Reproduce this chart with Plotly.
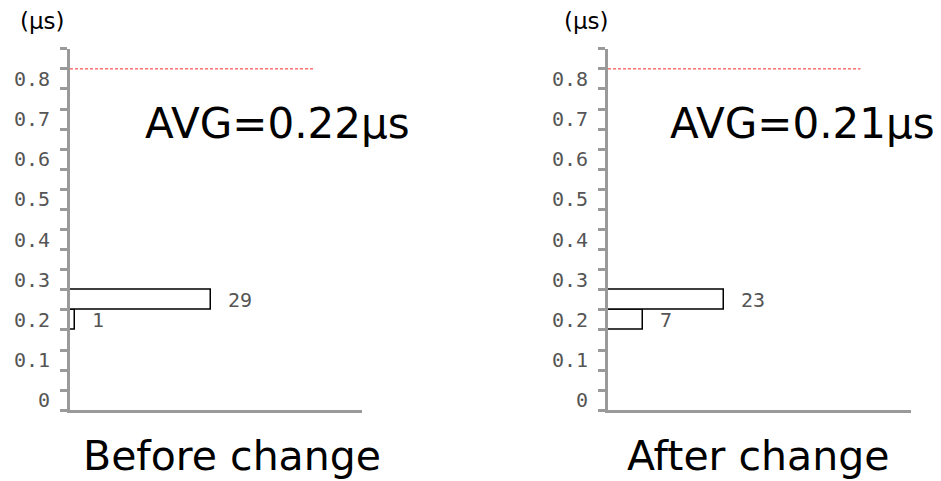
import plotly.graph_objects as go

# ---- data ----
bin_centers = [0.20, 0.25]          # µs
before_counts = [1, 29]
after_counts = [7, 23]
bin_width = 0.05
tick_values = [0, 0.1, 0.2, 0.3, 0.4, 0.5, 0.6, 0.7, 0.8]
tick_labels = ["0", "0.1", "0.2", "0.3", "0.4", "0.5", "0.6", "0.7", "0.8"]
band_edges = [-0.025 + 0.05 * i for i in range(19)]
limit_value = 0.825
limit_extent = 50
count_range = [0, 60]
avg_before = "AVG=0.22μs"
avg_after = "AVG=0.21μs"
panel_titles = ["Before change", "After change"]
unit_label = "(μs)"

W, H = 941, 481
AX = "#9a9a9a"
TICKFONT = dict(family="DejaVu Sans Mono", size=20, color="#555555")
BIGFONT = "DejaVu Sans"

def px_x(p):
    return p / W

def px_y(p):
    return 1 - p / H

fig = go.Figure()

panels = [
    dict(counts=before_counts, xa="x", ya="y", dom=[px_x(70), px_x(362)], avg=avg_before,
         avg_x=277, title_x=232, unit_x=42),
    dict(counts=after_counts, xa="x2", ya="y2", dom=[px_x(608), px_x(911)], avg=avg_after,
         avg_x=802, title_x=758, unit_x=586),
]

ydom = [px_y(412), px_y(49)]
annotations = []
shapes = []

for i, p in enumerate(panels):
    fig.add_trace(go.Bar(
        y=bin_centers, x=p["counts"], orientation="h", width=bin_width,
        marker=dict(color="white", line=dict(color="black", width=1.5)),
        xaxis=p["xa"], yaxis=p["ya"], showlegend=False, hoverinfo="skip",
    ))
    suffix = "" if i == 0 else "2"
    fig.layout["xaxis" + suffix] = dict(
        domain=p["dom"], range=count_range, showline=True, linecolor=AX, linewidth=3,
        showticklabels=False, ticks="", showgrid=False, zeroline=False,
        anchor="y" + suffix, fixedrange=True,
    )
    fig.layout["yaxis" + suffix] = dict(
        domain=ydom, range=[-0.025, 0.875], showline=True, linecolor=AX, linewidth=3,
        tickmode="array", tickvals=tick_values, ticktext=tick_labels, ticks="",
        tickfont=TICKFONT, ticklabelstandoff=13,
        minor=dict(tickmode="array", tickvals=band_edges, ticks="outside", ticklen=7,
                   tickwidth=2.5, tickcolor=AX, showgrid=False),
        showgrid=False, zeroline=False, anchor="x" + suffix, fixedrange=True,
    )
    for c, v in zip(bin_centers, p["counts"]):
        annotations.append(dict(
            x=v, y=c, xref=p["xa"], yref=p["ya"], text=str(v), showarrow=False,
            xanchor="left", yanchor="middle", xshift=15, font=TICKFONT,
        ))
    shapes.append(dict(
        type="line", xref=p["xa"], yref=p["ya"], x0=0, x1=limit_extent,
        y0=limit_value, y1=limit_value,
        line=dict(color="rgba(255,0,0,0.85)", width=1, dash="3px,2px"),
    ))
    annotations.append(dict(
        x=px_x(p["avg_x"]), y=px_y(124), xref="paper", yref="paper", text=p["avg"],
        showarrow=False, xanchor="center", yanchor="middle",
        font=dict(family=BIGFONT, size=42, color="black"),
    ))
    annotations.append(dict(
        x=px_x(p["title_x"]), y=px_y(458), xref="paper", yref="paper", text=panel_titles[i],
        showarrow=False, xanchor="center", yanchor="middle",
        font=dict(family=BIGFONT, size=41, color="black"),
    ))
    annotations.append(dict(
        x=px_x(p["unit_x"]), y=px_y(21), xref="paper", yref="paper", text=unit_label,
        showarrow=False, xanchor="center", yanchor="middle",
        font=dict(family=BIGFONT, size=23, color="black"),
    ))

fig.update_layout(
    width=W, height=H, margin=dict(l=0, r=0, t=0, b=0),
    paper_bgcolor="white", plot_bgcolor="white",
    annotations=annotations, shapes=shapes, bargap=0,
)

fig.write_html(
    "out.html",
    config={"displayModeBar": False},
    post_script="document.body.style.margin='0';document.body.style.padding='0';",
)
